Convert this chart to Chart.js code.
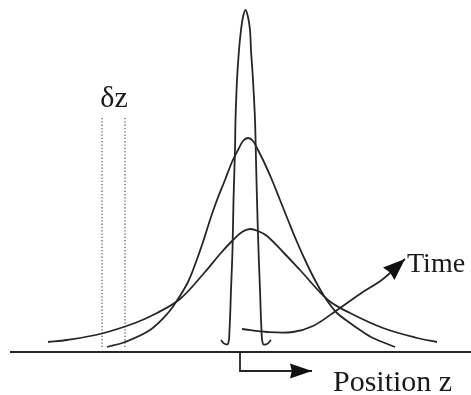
<!DOCTYPE html>
<html>
<head>
<meta charset="utf-8">
<script src="https://cdn.jsdelivr.net/npm/chart.js@4/dist/chart.umd.min.js"></script>
<style>
  html, body { margin: 0; padding: 0; background: #ffffff; }
  #wrap { width: 471px; height: 395px; }
</style>
</head>
<body>
<div id="wrap"><canvas id="c" width="471" height="395"></canvas></div>
<script>
// ---- Data (position z, concentration height above the axis) ----
// Narrow profile (earliest time)
const narrowZ = [221, 224, 228, 229.5, 231, 232.5, 233.5, 235, 235.5, 237, 239, 241, 243, 245.5, 248, 250, 251, 253, 255, 256, 257, 258.5, 260, 261.5, 263, 267, 271];
const narrowC = [12, 8.5, 8, 22, 62, 102, 152, 202, 232, 272, 302, 322, 335, 342, 335, 322, 302, 272, 232, 192, 152, 102, 62, 22, 8, 8, 12];
// Middle profile
const middleZ = [107, 125, 150, 168, 178, 188, 196, 203, 210, 217, 225, 232, 238, 243, 248, 253, 258, 264, 272, 280, 288, 297, 306, 316, 326, 337, 350, 360, 373, 395];
const middleC = [5, 10, 22, 39, 53, 70, 90, 110, 132, 152, 172, 190, 202, 211, 214, 211, 202, 190, 172, 152, 132, 110, 90, 70, 53, 39, 29, 22, 14, 5];
// Wide profile (latest time)
const wideZ = [48, 67, 100, 135, 157, 180, 205, 220, 233, 242, 250, 258, 267, 283, 300, 328, 350, 383, 417, 437];
const wideC = [10, 12, 18, 29, 39, 53, 80, 98, 112, 120, 123, 121, 116, 100, 82, 52, 39, 24, 14, 10];
// "Time" arrow path
const timeZ = [242, 267, 293, 313, 333, 360, 383, 405];
const timeC = [23, 20, 20, 26, 39, 58, 73, 93];
// "Position z" arrow path
const posZ = [240, 240, 312];
const posC = [0, -19, -19];
// Slab of width δz
const deltaZ = [102, 125];
const deltaTop = 234;
const deltaBottom = 5;
// Axis line
const axisZ = [10, 471];
// Labels
const labelTexts = ['δz', 'Time', 'Position z'];

const pts = (xs, ys) => xs.map((x, i) => ({ x: x, y: ys[i] }));
const ink = '#262626';

const datasets = [
  { data: pts(axisZ, [0, 0]), borderColor: ink, borderWidth: 2, tension: 0 },
  { data: pts(narrowZ, narrowC), borderColor: ink, borderWidth: 1.8, tension: 0.35 },
  { data: pts(middleZ, middleC), borderColor: ink, borderWidth: 1.8, tension: 0.35 },
  { data: pts(wideZ, wideC), borderColor: ink, borderWidth: 1.8, tension: 0.35 },
  { data: pts([deltaZ[0], deltaZ[0]], [deltaTop, deltaBottom]), borderColor: '#6e6e6e', borderWidth: 1.4, borderDash: [1.3, 2], tension: 0 },
  { data: pts([deltaZ[1], deltaZ[1]], [deltaTop, deltaBottom]), borderColor: '#6e6e6e', borderWidth: 1.4, borderDash: [1.3, 2], tension: 0 },
  { data: pts(timeZ, timeC), borderColor: ink, borderWidth: 1.8, tension: 0.35, arrowHead: { length: 22, half: 8.5 } },
  { data: pts(posZ, posC), borderColor: ink, borderWidth: 1.8, tension: 0, arrowHead: { length: 22, half: 7.5 } }
].map(d => Object.assign({ showLine: true, pointRadius: 0, fill: false, clip: false }, d));

const arrowPlugin = {
  id: 'arrowHeads',
  afterDatasetsDraw(chart) {
    const ctx = chart.ctx;
    chart.data.datasets.forEach((ds, i) => {
      if (!ds.arrowHead) return;
      const els = chart.getDatasetMeta(i).data;
      const a = els[els.length - 2], b = els[els.length - 1];
      const ang = Math.atan2(b.y - a.y, b.x - a.x);
      const L = ds.arrowHead.length, H = ds.arrowHead.half;
      ctx.save();
      ctx.translate(b.x, b.y);
      ctx.rotate(ang);
      ctx.beginPath();
      ctx.moveTo(0, 0);
      ctx.lineTo(-L, -H);
      ctx.lineTo(-L * 0.92, 0);
      ctx.lineTo(-L, H);
      ctx.closePath();
      ctx.fillStyle = '#111';
      ctx.fill();
      ctx.restore();
    });
  }
};

const labelPos = [
  { z: 114, c: 245, align: 'center', size: 30 },
  { z: 407, c: 80, align: 'left', size: 28 },
  { z: 333, c: -39, align: 'left', size: 30 }
];

const textPlugin = {
  id: 'labels',
  afterDatasetsDraw(chart) {
    const ctx = chart.ctx, xs = chart.scales.x, ys = chart.scales.y;
    ctx.save();
    ctx.fillStyle = '#1a1a1a';
    ctx.textBaseline = 'alphabetic';
    labelTexts.forEach((t, i) => {
      const p = labelPos[i];
      ctx.font = p.size + 'px "Liberation Serif", "DejaVu Serif", serif';
      ctx.textAlign = p.align;
      ctx.fillText(t, xs.getPixelForValue(p.z), ys.getPixelForValue(p.c));
    });
    ctx.restore();
  }
};

new Chart(document.getElementById('c'), {
  type: 'scatter',
  data: { datasets: datasets },
  options: {
    responsive: false,
    animation: false,
    layout: { padding: 0 },
    plugins: { legend: { display: false }, tooltip: { enabled: false } },
    scales: {
      x: { type: 'linear', min: 0, max: 471, display: false },
      y: { type: 'linear', min: -43, max: 352, display: false }
    }
  },
  plugins: [arrowPlugin, textPlugin]
});
</script>
</body>
</html>
